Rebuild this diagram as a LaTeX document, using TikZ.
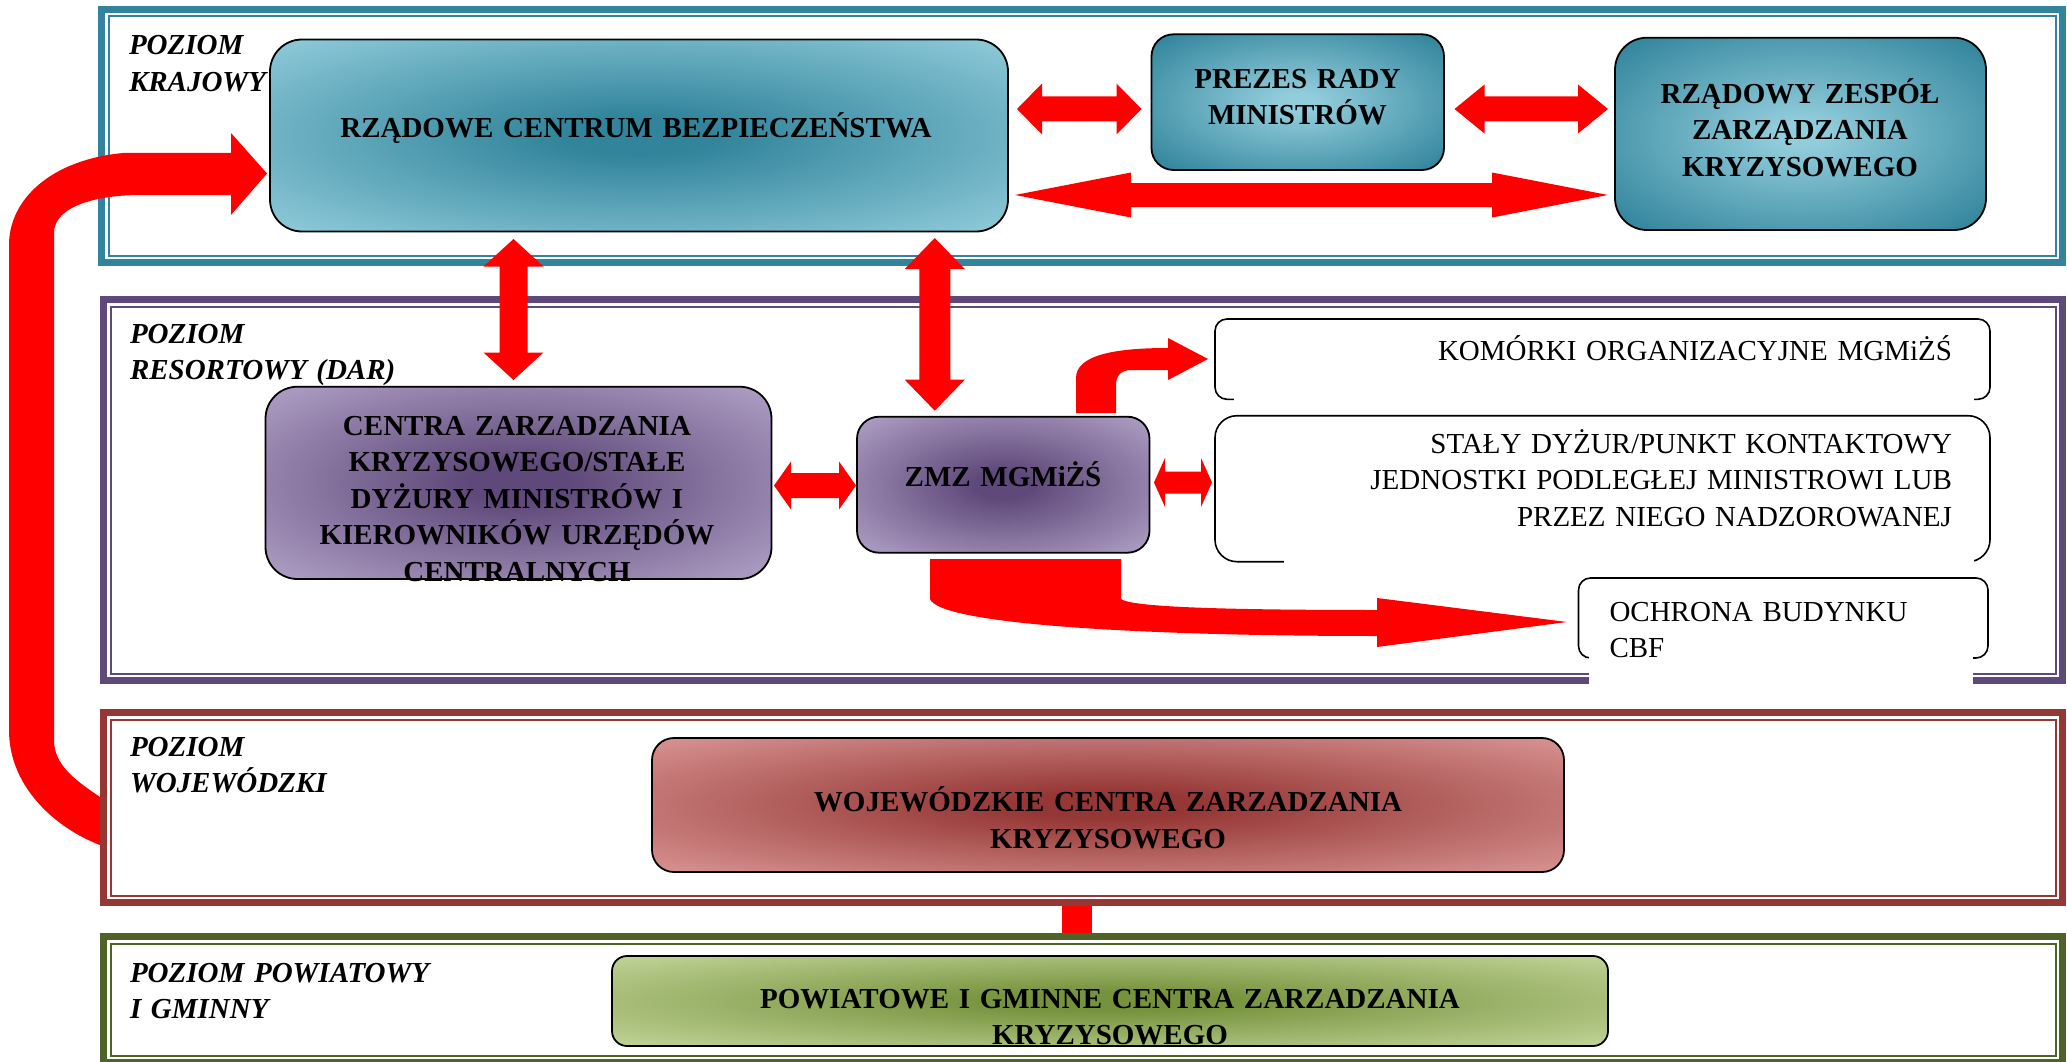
\documentclass[tikz,border=0pt]{standalone}
\usepackage{fontspec}
\setmainfont{Liberation Serif}
\usetikzlibrary{calc}
\definecolor{teal1}{HTML}{31849B}
\definecolor{tealL}{HTML}{92CDDC}
\definecolor{purp}{HTML}{5F497A}
\definecolor{purpL}{HTML}{B2A2C7}
\definecolor{dred}{HTML}{953735}
\definecolor{redL}{HTML}{D99694}
\definecolor{olive}{HTML}{4F6228}
\definecolor{grnD}{HTML}{76923C}
\definecolor{grnL}{HTML}{C3D69B}
\definecolor{arrowred}{HTML}{FF0000}
\colorlet{gin}{black}
\colorlet{gout}{white}
\pgfdeclareradialshading[gin,gout]{gdark}{\pgfpoint{0bp}{0bp}}{color(0bp)=(gin); color(5bp)=(gin); color(36bp)=(gout); color(50bp)=(gout)}
\pgfdeclareradialshading[gin,gout]{glight}{\pgfpoint{0bp}{0bp}}{color(0bp)=(gin); color(3bp)=(gin); color(34bp)=(gout); color(50bp)=(gout)}
\newcommand\dblarrow[5]{%
  \path (#1) coordinate (dA) (#2) coordinate (dB);
  \path ($(dA)!#5!(dB)$) coordinate (dAh) ($(dB)!#5!(dA)$) coordinate (dBh);
  \fill[arrowred] (dA) -- ($(dAh)!#4!90:(dB)$) -- ($(dAh)!#3!90:(dB)$) -- ($(dBh)!#3!90:(dB)$) -- ($(dBh)!#4!90:(dB)$) -- (dB) -- ($(dBh)!#4!-90:(dB)$) -- ($(dBh)!#3!-90:(dB)$) -- ($(dAh)!#3!-90:(dB)$) -- ($(dAh)!#4!-90:(dB)$) -- cycle;}
\tikzset{
  every node/.style={inner sep=0pt, outer sep=0pt},
  frame/.style={rectangle, draw=#1, line width=7pt, fill=white},
  thinline/.style={draw=#1, line width=2pt},
  gr/.code 2 args={\colorlet{gin}{#1}\colorlet{gout}{#2}},
  cbox/.style={rectangle, draw=black, line width=1.8pt, rounded corners=#1, shade},
  sbox/.style={rectangle, draw=black, line width=1.6pt, rounded corners=#1, fill=white},
  btxt/.style={font=\fontsize{29pt}{36.6pt}\selectfont\bfseries, align=center, text width=#1, anchor=base},
  rtxt/.style={font=\fontsize{29pt}{36.9pt}\selectfont, align=right, text width=#1, anchor=base east},
  ltxt/.style={font=\fontsize{29pt}{36pt}\selectfont, align=left, text width=#1, anchor=base west},
  lab/.style={font=\fontsize{29pt}{36.8pt}\selectfont\bfseries\itshape, align=left, text width=450pt, anchor=base west},
}
\begin{document}
\begin{tikzpicture}[x=1pt,y=-1pt]
\useasboundingbox (0,0) rectangle (2067,1062);
\coordinate (y109) at (0,109);
\coordinate (y195) at (0,195);
\coordinate (x513) at (513.5,0);
\coordinate (x934) at (934.75,0);
\coordinate (y485) at (0,485.5);
\coordinate (y482) at (0,482.5);
\coordinate (x1077) at (1077,0);

% level frames
\node[frame=teal1, minimum width=1961pt, minimum height=253pt] (f1) at (1082,136) {};
\draw[thinline=teal1] ([shift={(7,7)}]f1.north west) rectangle ([shift={(-7,-7)}]f1.south east);
\node[frame=purp, minimum width=1959pt, minimum height=381pt] (f2) at (1083,490) {};
\draw[thinline=purp] ([shift={(7,7)}]f2.north west) rectangle ([shift={(-7,-7)}]f2.south east);
\node[frame=dred, minimum width=1959pt, minimum height=190pt] (f3) at (1083,807.5) {};
\draw[thinline=dred] ([shift={(7,7)}]f3.north west) rectangle ([shift={(-7,-7)}]f3.south east);
\node[frame=olive, minimum width=1959pt, minimum height=126pt] (f4) at (1083,999.5) {};
\draw[thinline=olive] ([shift={(7,7)}]f4.north west) rectangle ([shift={(-7,-7)}]f4.south east);

% connector between provincial and district levels
\draw[arrowred, line width=30pt, shorten <=3.5pt, shorten >=3.5pt] (f3.south -| x1077) -- (f4.north -| x1077);

% level labels
\node[lab] (l1) at (129,55) {POZIOM\\KRAJOWY};
\node[lab] (l2) at (130,343) {POZIOM\\RESORTOWY (DAR)};
\node[lab] (l3) at (130,756) {POZIOM\\WOJEWÓDZKI};
\node[lab] (l4) at (130,982) {POZIOM POWIATOWY\\I GMINNY};

% coloured boxes
\node[cbox=32pt, gr={teal1}{tealL}, shading=gdark, minimum width=738pt, minimum height=192pt] (rcb) at (639,135.5) {};
\node[cbox=22pt, gr={tealL}{teal1}, shading=glight, minimum width=292.5pt, minimum height=135.7pt] (prezes) at (1297.75,102.15) {};
\node[cbox=32pt, gr={tealL}{teal1}, shading=glight, minimum width=371pt, minimum height=192.3pt] (rzzk) at (1800.5,133.85) {};
\node[cbox=32pt, gr={purp}{purpL}, shading=gdark, minimum width=506pt, minimum height=192.3pt] (cz) at (518.5,482.85) {};
\node[cbox=22pt, gr={purp}{purpL}, shading=gdark, minimum width=292.5pt, minimum height=136pt] (zmz) at (1003.25,484.7) {};
\node[cbox=22pt, gr={dred}{redL}, shading=gdark, minimum width=912pt, minimum height=134pt] (woj) at (1108,805) {};
\node[cbox=15pt, gr={grnD}{grnL}, shading=gdark, minimum width=996pt, minimum height=90pt] (pow) at (1110,1001) {};

% white boxes (bottom edge hidden by their text areas)
\node[sbox=12pt, minimum width=775pt, minimum height=80.3pt] (kom) at (1602.5,359.15) {};
\fill[white] (1234,391) rectangle (1974,404);
\node[sbox=22pt, minimum width=775pt, minimum height=146pt] (stl) at (1602.5,488.7) {};
\fill[white] (1284,553) rectangle (1974,566);
\node[sbox=12pt, minimum width=409.5pt, minimum height=80pt] (och) at (1783.25,618) {};
\fill[white] (1589,650) rectangle (1973,687);

% texts
\node[btxt=700pt] (rcbt) at (636,137.7) {RZĄDOWE CENTRUM BEZPIECZEŃSTWA};
\node[btxt=280pt] (prezest) at (1297.5,88.3) {PREZES RADY\\MINISTRÓW};
\node[btxt=360pt] (rzzkt) at (1800,103.3) {RZĄDOWY ZESPÓŁ\\ZARZĄDZANIA\\KRYZYSOWEGO};
\node[btxt=500pt] (czt) at (517,435) {CENTRA ZARZADZANIA\\KRYZYSOWEGO/STAŁE\\DYŻURY MINISTRÓW I\\KIEROWNIKÓW URZĘDÓW\\CENTRALNYCH};
\node[btxt=280pt] (zmzt) at (1003,486.7) {ZMZ MGMiŻŚ};
\node[btxt=880pt] (wojt) at (1108,811.7) {WOJEWÓDZKIE CENTRA ZARZADZANIA\\KRYZYSOWEGO};
\node[btxt=960pt] (powt) at (1110,1008.3) {POWIATOWE I GMINNE CENTRA ZARZADZANIA\\KRYZYSOWEGO};
\node[rtxt=700pt] (komt) at (1952,360) {KOMÓRKI ORGANIZACYJNE MGMiŻŚ};
\node[rtxt=700pt] (stlt) at (1952,453) {STAŁY DYŻUR/PUNKT KONTAKTOWY\\JEDNOSTKI PODLEGŁEJ MINISTROWI LUB\\PRZEZ NIEGO NADZOROWANEJ};
\node[ltxt=350pt] (ocht) at (1609.5,621.7) {OCHRONA BUDYNKU\\CBF};

% double block arrows
\dblarrow{$(rcb.east |- y109)+(9,0)$}{$(prezes.west |- y109)+(-10,0)$}{12.5pt}{25.5pt}{25pt}
\dblarrow{$(prezes.east |- y109)+(10.5,0)$}{$(rzzk.west |- y109)+(-7,0)$}{12.5pt}{24.5pt}{30pt}
\dblarrow{$(rcb.east |- y195)+(7,0)$}{$(rzzk.west |- y195)+(-7,0)$}{12pt}{22.5pt}{116pt}
\dblarrow{$(rcb.south -| x513)+(0,7.5)$}{$(cz.north -| x513)+(0,-6.7)$}{14pt}{30pt}{27.5pt}
\dblarrow{$(rcb.south -| x934)+(0,6.5)$}{$(zmz.north -| x934)+(0,-6)$}{15.5pt}{30pt}{31pt}
\dblarrow{$(cz.east |- y485)+(2.5,0)$}{$(zmz.west |- y485)+(-1,0)$}{12.5pt}{24pt}{17pt}
\dblarrow{$(zmz.east |- y482)+(4.5,0)$}{$(stl.west |- y482)+(-3,0)$}{11pt}{24.5pt}{11pt}

% bent arrow ZMZ -> KOMORKI
\fill[arrowred] (1076,413) -- (1076,378) .. controls (1076,355) and (1115,348) .. (1168,348) -- (1168,338) -- (1208,359) -- (1168,380) -- (1168,370) -- (1132,370) .. controls (1120,370) and (1116,376) .. (1116,386) -- (1116,413) -- cycle;

% curved arrow ZMZ -> OCHRONA
\fill[arrowred] (930,559) -- (1121,559) -- (1121,599) .. controls (1130,606) and (1200,610) .. (1377,610) -- (1377,598) -- (1567,622) -- (1377,647) -- (1377,636) .. controls (1150,636) and (940,625) .. (930,599) -- cycle;

% big arrow from provincial level to RCB
\fill[arrowred] (100,797) .. controls (75,780) and (54,765) .. (54,740) -- (54,233) .. controls (54,205) and (100,195) .. (140,195) -- (231,195) -- (231,215) -- (267,173.5) -- (231,133) -- (231,153) -- (123,153) .. controls (50,160) and (9,200) .. (9,245) -- (9,730) .. controls (9,790) and (60,830) .. (100,845) -- cycle;
\end{tikzpicture}
\end{document}
